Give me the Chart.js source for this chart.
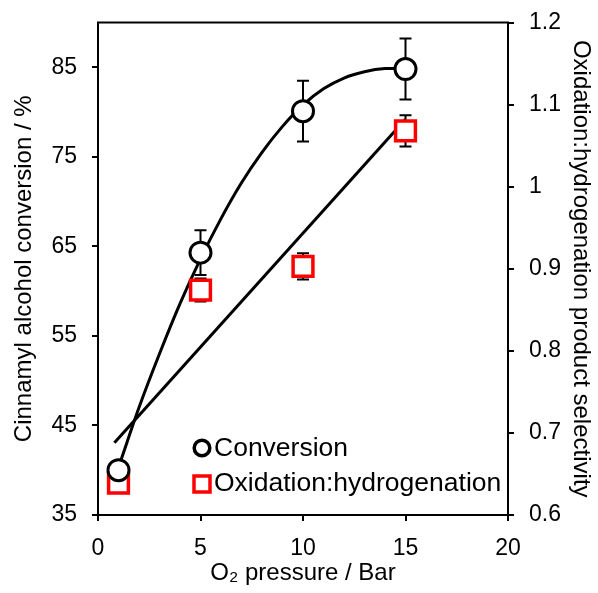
<!DOCTYPE html>
<html>
<head>
<meta charset="utf-8">
<script src="https://cdn.jsdelivr.net/npm/chart.js@4.4.0/dist/chart.umd.min.js"></script>
<style>
  html, body { margin: 0; padding: 0; background: #fff; }
</style>
</head>
<body>
<canvas id="chart" width="598" height="593"></canvas>
<script>
// measured points
const pressure = [1, 5, 10, 15];
const conversion = [40.0, 64.3, 80.1, 84.8];
const conversionErr = [1.0, 2.5, 3.4, 3.4];
const selectivity = [0.639, 0.874, 0.903, 1.068];
const selectivityErr = [0.008, 0.014, 0.016, 0.019];

// trend lines
const convTrendX = [1.1, 2, 3, 4, 5, 6, 7, 8, 9, 10, 11, 12, 13, 14, 15];
const convTrendY = [41.0, 47.0, 53.0, 58.6, 63.6, 68.1, 72.1, 75.5, 78.4, 80.8, 82.6, 83.8, 84.5, 84.85, 84.9];
const selTrendX = [0.8, 15];
const selTrendY = [0.688, 1.082];

// axis ticks
const xTicks = [0, 5, 10, 15, 20];
const leftTicks = [35, 45, 55, 65, 75, 85];
const rightTicks = [0.6, 0.7, 0.8, 0.9, 1.0, 1.1, 1.2];
const rightTickLabels = ['0.6', '0.7', '0.8', '0.9', '1', '1.1', '1.2'];

const FONT = '"Liberation Sans", Arial, sans-serif';

function pts(xs, ys) {
  return xs.map((x, i) => ({ x: x, y: ys[i] }));
}

// error bars under the markers
const errorBars = {
  id: 'errorBars',
  beforeDatasetsDraw(chart) {
    const ctx = chart.ctx;
    const xs = chart.scales.x;
    const sets = [
      { scale: chart.scales.y, vals: conversion, errs: conversionErr },
      { scale: chart.scales.y1, vals: selectivity, errs: selectivityErr }
    ];
    ctx.save();
    ctx.strokeStyle = '#000';
    ctx.lineWidth = 2;
    sets.forEach(s => {
      pressure.forEach((p, i) => {
        const px = xs.getPixelForValue(p);
        const top = s.scale.getPixelForValue(s.vals[i] + s.errs[i]);
        const bot = s.scale.getPixelForValue(s.vals[i] - s.errs[i]);
        ctx.beginPath();
        ctx.moveTo(px, top); ctx.lineTo(px, bot);
        ctx.moveTo(px - 6, top); ctx.lineTo(px + 6, top);
        ctx.moveTo(px - 6, bot); ctx.lineTo(px + 6, bot);
        ctx.stroke();
      });
    });
    ctx.restore();
  }
};

// top frame line + legend inside plot
const extras = {
  id: 'extras',
  afterDraw(chart) {
    const ctx = chart.ctx;
    const a = chart.chartArea;
    ctx.save();
    ctx.strokeStyle = '#000';
    ctx.lineWidth = 2;
    ctx.beginPath();
    ctx.moveTo(a.left - 1, a.top);
    ctx.lineTo(a.right + 1, a.top);
    ctx.stroke();

    const lx = a.left + 104;
    ctx.lineWidth = 3.5;
    ctx.fillStyle = '#fff';
    ctx.beginPath();
    ctx.arc(lx, 448, 7.8, 0, Math.PI * 2);
    ctx.fill();
    ctx.stroke();
    ctx.strokeStyle = '#ff0000';
    ctx.fillRect(lx - 8, 476, 16, 16);
    ctx.strokeRect(lx - 8, 476, 16, 16);

    ctx.fillStyle = '#000';
    ctx.font = '26.5px ' + FONT;
    ctx.textBaseline = 'middle';
    ctx.textAlign = 'left';
    ctx.fillText('Conversion', lx + 12, 449);
    ctx.fillText('Oxidation:hydrogenation', lx + 12, 484);
    ctx.restore();
  }
};

// fixed axis box sizes so the plot area sits where the original has it
function fixY(width) {
  return s => {
    s.width = width;
    s.paddingTop = 0;
    s.paddingBottom = 0;
  };
}

const tickFont = { family: FONT, size: 23 };
const titleFont = { family: FONT, size: 24 };
const gridOpts = { drawOnChartArea: false, drawTicks: true, tickLength: 6, color: '#000', lineWidth: 2 };
const borderOpts = { color: '#000', width: 2 };

const ctx = document.getElementById('chart').getContext('2d');
const chart = new Chart(ctx, {
  type: 'scatter',
  data: {
    datasets: [
      {
        label: 'Conversion',
        data: pts(pressure, conversion),
        yAxisID: 'y',
        pointStyle: 'circle',
        pointRadius: 10.5,
        pointBorderWidth: 3,
        borderColor: '#000',
        backgroundColor: '#fff',
        order: 0
      },
      {
        label: 'Oxidation:hydrogenation',
        data: pts(pressure, selectivity),
        yAxisID: 'y1',
        pointStyle: 'rect',
        pointRadius: 14,
        pointBorderWidth: 3.5,
        borderColor: '#ff0000',
        backgroundColor: '#fff',
        order: 1
      },
      {
        label: 'conv trend',
        data: pts(convTrendX, convTrendY),
        yAxisID: 'y',
        showLine: true,
        cubicInterpolationMode: 'monotone',
        pointRadius: 0,
        borderColor: '#000',
        borderWidth: 3,
        order: 3
      },
      {
        label: 'sel trend',
        data: pts(selTrendX, selTrendY),
        yAxisID: 'y1',
        showLine: true,
        pointRadius: 0,
        borderColor: '#000',
        borderWidth: 3,
        order: 3
      }
    ]
  },
  options: {
    responsive: false,
    animation: false,
    layout: { padding: { top: 22.5, left: 0, right: 0, bottom: 0 } },
    plugins: {
      legend: { display: false },
      tooltip: { enabled: false }
    },
    scales: {
      x: {
        type: 'linear',
        min: 0,
        max: 20,
        afterBuildTicks: axis => { axis.ticks = xTicks.map(v => ({ value: v })); },
        afterFit: s => { s.height = 78; },
        ticks: { font: tickFont, color: '#000', padding: 14, maxRotation: 0 },
        grid: gridOpts,
        border: borderOpts,
        title: { display: true, text: 'O₂ pressure / Bar', font: titleFont, color: '#000', padding: { top: 0, bottom: 5 } }
      },
      y: {
        position: 'left',
        min: 35,
        max: 90,
        afterBuildTicks: axis => { axis.ticks = leftTicks.map(v => ({ value: v })); },
        afterFit: fixY(98),
        ticks: { font: tickFont, color: '#000', padding: 15 },
        grid: gridOpts,
        border: borderOpts,
        title: { display: true, text: 'Cinnamyl alcohol conversion / %', font: titleFont, color: '#000', padding: { top: 10, bottom: 0 } }
      },
      y1: {
        position: 'right',
        min: 0.6,
        max: 1.2,
        afterBuildTicks: axis => { axis.ticks = rightTicks.map(v => ({ value: v })); },
        afterFit: fixY(90),
        ticks: {
          font: tickFont, color: '#000', padding: 15,
          callback: (v, i) => rightTickLabels[i]
        },
        grid: gridOpts,
        border: borderOpts,
        title: { display: true, text: 'Oxidation:hydrogenation product selectivity', font: titleFont, color: '#000', padding: { top: 3, bottom: 0 } }
      }
    }
  },
  plugins: [errorBars, extras]
});
</script>
</body>
</html>
